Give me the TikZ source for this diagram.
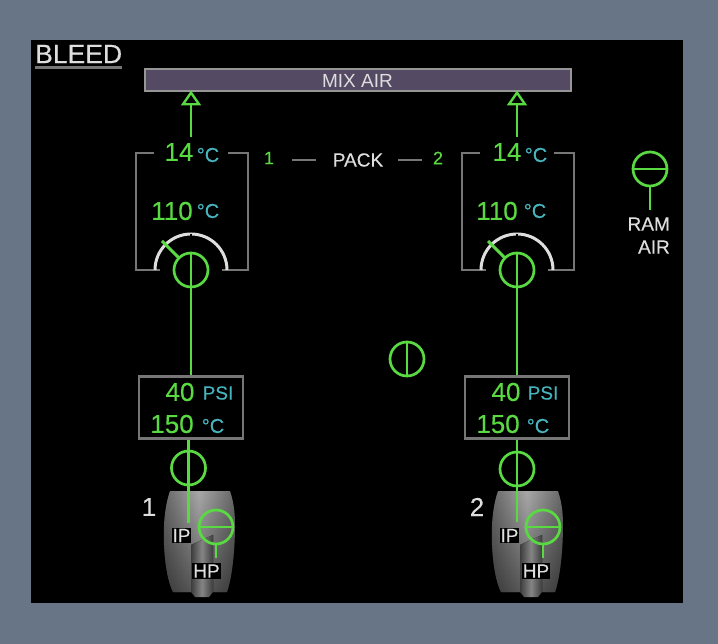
\documentclass[tikz,border=0pt]{standalone}
\usepackage{fontspec}
\setmainfont{Liberation Sans}
\newfontfamily\heavy[FakeBold=0.35]{Liberation Sans}
\usepackage{xcolor}
\usetikzlibrary{arrows.meta, calc, fadings}
\definecolor{slate}{RGB}{103,117,135}
\definecolor{ecamgreen}{RGB}{90,218,66}
\definecolor{ecamcyan}{RGB}{72,180,190}
\definecolor{ecamwhite}{RGB}{222,222,222}
\definecolor{ecamgray}{RGB}{118,118,118}
\definecolor{mixfill}{RGB}{84,74,100}
\definecolor{mixedge}{RGB}{150,150,150}

\newcommand{\fsz}[1]{\fontsize{#1}{#1}\selectfont}

\begin{document}
\begin{tikzpicture}[
  x=1pt, y=-1pt,
  gline/.style={ecamgreen, line width=2.9pt},
  valve/.style={draw=ecamgreen, circle, line width=2.7pt, minimum size=34pt, inner sep=0pt},
  frame/.style={ecamgray, line width=2.2pt},
  dial/.style={ecamwhite, line width=3pt},
  gval/.style={text=ecamgreen, font=\heavy\fsz{26}, inner sep=0pt},
  gsmall/.style={text=ecamgreen, font=\heavy\fsz{18}, inner sep=0pt},
  unit/.style={text=ecamcyan, font=\heavy\fsz{20}, inner sep=0pt},
  wlab/.style={text=ecamwhite, font=\heavy\fsz{19}, inner sep=0pt},
  tag/.style={fill=black, text=ecamwhite, font=\heavy\fsz{19}, inner sep=1pt},
  databox/.style={draw=ecamgray, line width=2.4pt, minimum width=104pt, minimum height=62pt, inner sep=0pt},
  open tri/.style={-{Triangle[open, length=15pt, width=20pt, line width=2.4pt]}}]
  \fill[slate] (0,0) rectangle (718,644);
  \useasboundingbox (0,0) rectangle (718,644);
  \fill[black] (31,40) rectangle (683,603);

  % title and mixer
  \node[text=ecamwhite, font=\heavy\fsz{26.5}, anchor=west, inner sep=0pt] (title) at (35,54) {BLEED};
  \draw[ecamgray, line width=2.4pt] (title.west |- 0,67.5) -- (title.east |- 0,67.5);
  \node[draw=mixedge, fill=mixfill, line width=2pt, minimum width=426pt, minimum height=22pt,
        inner sep=0pt, text=ecamwhite, font=\fsz{19}] (mix) at (357.5,80.5) {MIX AIR};

  % pack labels
  \node[wlab] (pack) at (358,160) {PACK};
  \node[gsmall] (pk1) at (269,158) {1};
  \node[gsmall] (pk2) at (438,158) {2};
  \draw[frame] ($(pk1.east)+(18,2)$) -- ($(pack.west)+(-17,0)$);
  \draw[frame] ($(pack.east)+(15,0)$) -- ($(pk2.west)+(-11,2)$);

  % left pack
  \coordinate (out1) at (191,137);
  \draw[gline, open tri] (out1) -- ($(mix.south -| out1)+(0,-2)$);
  \draw[frame] (154,153) -- (136,153) -- (136,270) -- (160,270);
  \draw[frame] (228,153) -- (248,153) -- (248,270) -- (222,270);
  \node[gval] at (179,152) {14};
  \node[unit] at (208,155) {°C};
  \node[gval] at (172,211) {110};
  \node[unit] at (208,211) {°C};
  \draw[dial] (155,270) arc (180:360:36);
  \draw[black, line width=1.2pt] (191,234) -- (191,240);
  \node[valve] (pv1) at (191,270) {};
  \draw[gline] (162,241) -- (179,258);
  \node[databox] (box1) at (191,407.5) {};
  \draw[gline] (pv1.north) -- (box1.north);
  \node[gval] at (180,392) {40};
  \node[unit, font=\heavy\fsz{19}] at (218,393) {PSI};
  \node[gval] at (172,424) {150};
  \node[unit] at (213,426) {°C};

  % left engine
  \fill[left color=black!60, right color=black!60, middle color=black!34]
    (170,491) .. controls (165,505) and (163,525) .. (164,545) .. controls (165,565) and (168,582) .. (173,592)
    -- (227,592) .. controls (232,578) and (235,550) .. (235,525) .. controls (235,510) and (233,500) .. (230,491) -- cycle;
  \fill[black, opacity=0.45, path fading=north]
    (170,491) .. controls (165,505) and (163,525) .. (164,545) .. controls (165,565) and (168,582) .. (173,592)
    -- (227,592) .. controls (232,578) and (235,550) .. (235,525) .. controls (235,510) and (233,500) .. (230,491) -- cycle;
  \fill[left color=black!76, right color=black!76, middle color=black!48]
    (191,545) -- (213,535) -- (213,592) -- (209,597) -- (195,597) -- (191,592) -- cycle;
  \node[valve] (ev1) at (188.5,468) {};
  \coordinate (core1) at (188.5,523);
  \draw[gline] (box1.south -| ev1) -- (core1);
  \node[tag] (ip1) at (181.5,535.5) {IP};
  \node[tag] (hp1) at (206.5,571) {HP};
  \node[valve] (hv1) at (216,527) {};
  \draw[gline] (hv1.west) -- (hv1.east);
  \draw[gline] (hv1.south) -- ($(hv1.south |- hp1.north)+(0,-5)$);
  \node[text=ecamwhite, font=\heavy\fsz{26}, inner sep=0pt] (en1) at (149,507) {1};

  % right pack
  \coordinate (out2) at (517,137);
  \draw[gline, open tri] (out2) -- ($(mix.south -| out2)+(0,-2)$);
  \draw[frame] (480,153) -- (462,153) -- (462,270) -- (486,270);
  \draw[frame] (554,153) -- (574,153) -- (574,270) -- (548,270);
  \node[gval] at (507,152) {14};
  \node[unit] at (536,155) {°C};
  \node[gval] at (497,211) {110};
  \node[unit] at (535,211) {°C};
  \draw[dial] (481,270) arc (180:360:36);
  \draw[black, line width=1.2pt] (517,234) -- (517,240);
  \node[valve] (pv2) at (517,270) {};
  \draw[gline] (488,241) -- (505,258);
  \node[databox] (box2) at (517,407.5) {};
  \draw[gline] (pv2.north) -- (box2.north);
  \node[gval] at (506,392) {40};
  \node[unit, font=\heavy\fsz{19}] at (543,393) {PSI};
  \node[gval] at (498,424) {150};
  \node[unit] at (538,426) {°C};

  % right engine
  \fill[left color=black!60, right color=black!60, middle color=black!34]
    (498,491) .. controls (493,505) and (491,525) .. (492,545) .. controls (493,565) and (496,582) .. (501,592)
    -- (555,592) .. controls (560,578) and (563,550) .. (563,525) .. controls (563,510) and (561,500) .. (558,491) -- cycle;
  \fill[black, opacity=0.45, path fading=north]
    (498,491) .. controls (493,505) and (491,525) .. (492,545) .. controls (493,565) and (496,582) .. (501,592)
    -- (555,592) .. controls (560,578) and (563,550) .. (563,525) .. controls (563,510) and (561,500) .. (558,491) -- cycle;
  \fill[left color=black!76, right color=black!76, middle color=black!48]
    (520,545) -- (542,535) -- (542,592) -- (538,597) -- (524,597) -- (520,592) -- cycle;
  \node[valve] (ev2) at (517,469) {};
  \coordinate (core2) at (517,522);
  \draw[gline] (box2.south -| ev2) -- (core2);
  \node[tag] (ip2) at (509.5,535.5) {IP};
  \node[tag] (hp2) at (536,571) {HP};
  \node[valve] (hv2) at (543,527) {};
  \draw[gline] (hv2.west) -- (hv2.east);
  \draw[gline] (hv2.south) -- ($(hv2.south |- hp2.north)+(0,-5)$);
  \node[text=ecamwhite, font=\heavy\fsz{26}, inner sep=0pt] (en2) at (477,507) {2};

  % crossbleed and ram air
  \node[valve] (xv) at (407,359) {};
  \draw[gline] (xv.north) -- (xv.south);
  \node[valve] (rv) at (650,169) {};
  \draw[gline] (rv.west) -- (rv.east);
  \node[wlab, anchor=east] (ram) at (670,224) {RAM};
  \node[wlab, anchor=east] (air) at (670,247) {AIR};
  \draw[gline] (rv.south) -- ($(rv.south |- ram.north)+(0,-7)$);
\end{tikzpicture}
\end{document}
